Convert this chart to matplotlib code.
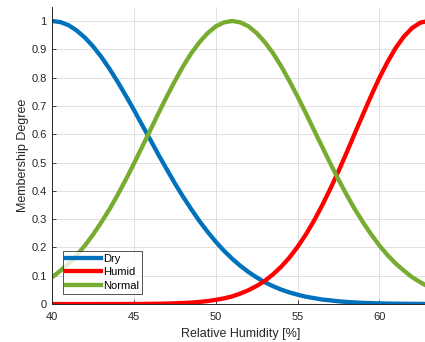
import numpy as np
import matplotlib.pyplot as plt

plt.rcParams['font.family'] = ['Liberation Sans', 'DejaVu Sans']

# Relative humidity grid (0.5 % steps) and membership degrees of the three fuzzy sets
humidity = np.arange(40, 63.5, 0.5)
dry = [1.000, 0.996, 0.985, 0.966, 0.941, 0.910, 0.873, 0.831, 0.785, 0.736,
       0.685, 0.632, 0.580, 0.527, 0.476, 0.426, 0.379, 0.335, 0.293, 0.255,
       0.220, 0.188, 0.160, 0.135, 0.113, 0.094, 0.077, 0.063, 0.051, 0.041,
       0.033, 0.026, 0.021, 0.016, 0.013, 0.0097, 0.0074, 0.0056, 0.0042, 0.0031,
       0.0023, 0.0017, 0.0013, 0.0009, 0.0007, 0.0005, 0.0003]
humid = [0.0, 0.0, 0.0, 0.0, 0.0, 0.0, 0.0001, 0.0001, 0.0001, 0.0002,
         0.0003, 0.0005, 0.0007, 0.0011, 0.0017, 0.0025, 0.0036, 0.0052, 0.0074, 0.0105,
         0.015, 0.020, 0.027, 0.037, 0.049, 0.064, 0.082, 0.105, 0.132, 0.164,
         0.202, 0.245, 0.294, 0.348, 0.407, 0.469, 0.535, 0.603, 0.670, 0.736,
         0.799, 0.855, 0.905, 0.945, 0.975, 0.994, 1.000]
normal = [0.095, 0.118, 0.143, 0.173, 0.207, 0.246, 0.289, 0.335, 0.386, 0.440,
          0.497, 0.556, 0.615, 0.675, 0.733, 0.788, 0.840, 0.886, 0.925, 0.957,
          0.981, 0.995, 1.000, 0.995, 0.981, 0.957, 0.925, 0.886, 0.840, 0.788,
          0.733, 0.675, 0.615, 0.556, 0.497, 0.440, 0.386, 0.335, 0.289, 0.246,
          0.207, 0.173, 0.143, 0.118, 0.095, 0.077, 0.061]

x_ticks = [40, 45, 50, 55, 60]
y_ticks = np.round(np.arange(0, 1.01, 0.1), 1)
y_ticklabels = ['0', '0.1', '0.2', '0.3', '0.4', '0.5', '0.6', '0.7', '0.8', '0.9', '1']

fig = plt.figure(figsize=(4.25, 3.42), dpi=100)
ax = fig.add_axes([0.123, 0.111, 0.885, 0.869])

ax.plot(humidity, dry, color='#0072BD', lw=3.1, label='Dry')
ax.plot(humidity, humid, color='#FF0000', lw=3.1, label='Humid')
ax.plot(humidity, normal, color='#77AC30', lw=3.1, label='Normal')

ax.set_xlim(40, 63)
ax.set_ylim(0, 1.05)
ax.set_xticks(x_ticks)
ax.set_yticks(y_ticks)
ax.set_yticklabels(y_ticklabels)
ax.tick_params(direction='in', length=3, width=0.6, labelsize=8, colors='#262626')
ax.tick_params(axis='x', pad=6)
ax.tick_params(axis='y', pad=4)
ax.grid(True, color='#dcdcdc', lw=0.6)
ax.set_axisbelow(True)

for side in ['top', 'right']:
    ax.spines[side].set_visible(False)
for side in ['left', 'bottom']:
    ax.spines[side].set_color('#262626')
    ax.spines[side].set_linewidth(0.7)

ax.set_xlabel('Relative Humidity [%]', fontsize=9, color='#262626', labelpad=4)
ax.set_ylabel('Membership Degree', fontsize=9, color='#262626', labelpad=2)

leg = ax.legend(loc='lower left', bbox_to_anchor=(0.028, 0.034), fontsize=8,
                frameon=True, fancybox=False, handlelength=3.1, handletextpad=0.2,
                borderpad=0.3, labelspacing=0.3, borderaxespad=0)
leg.get_frame().set_edgecolor('#262626')
leg.get_frame().set_linewidth(0.7)

fig.savefig('out.png', dpi=100)
